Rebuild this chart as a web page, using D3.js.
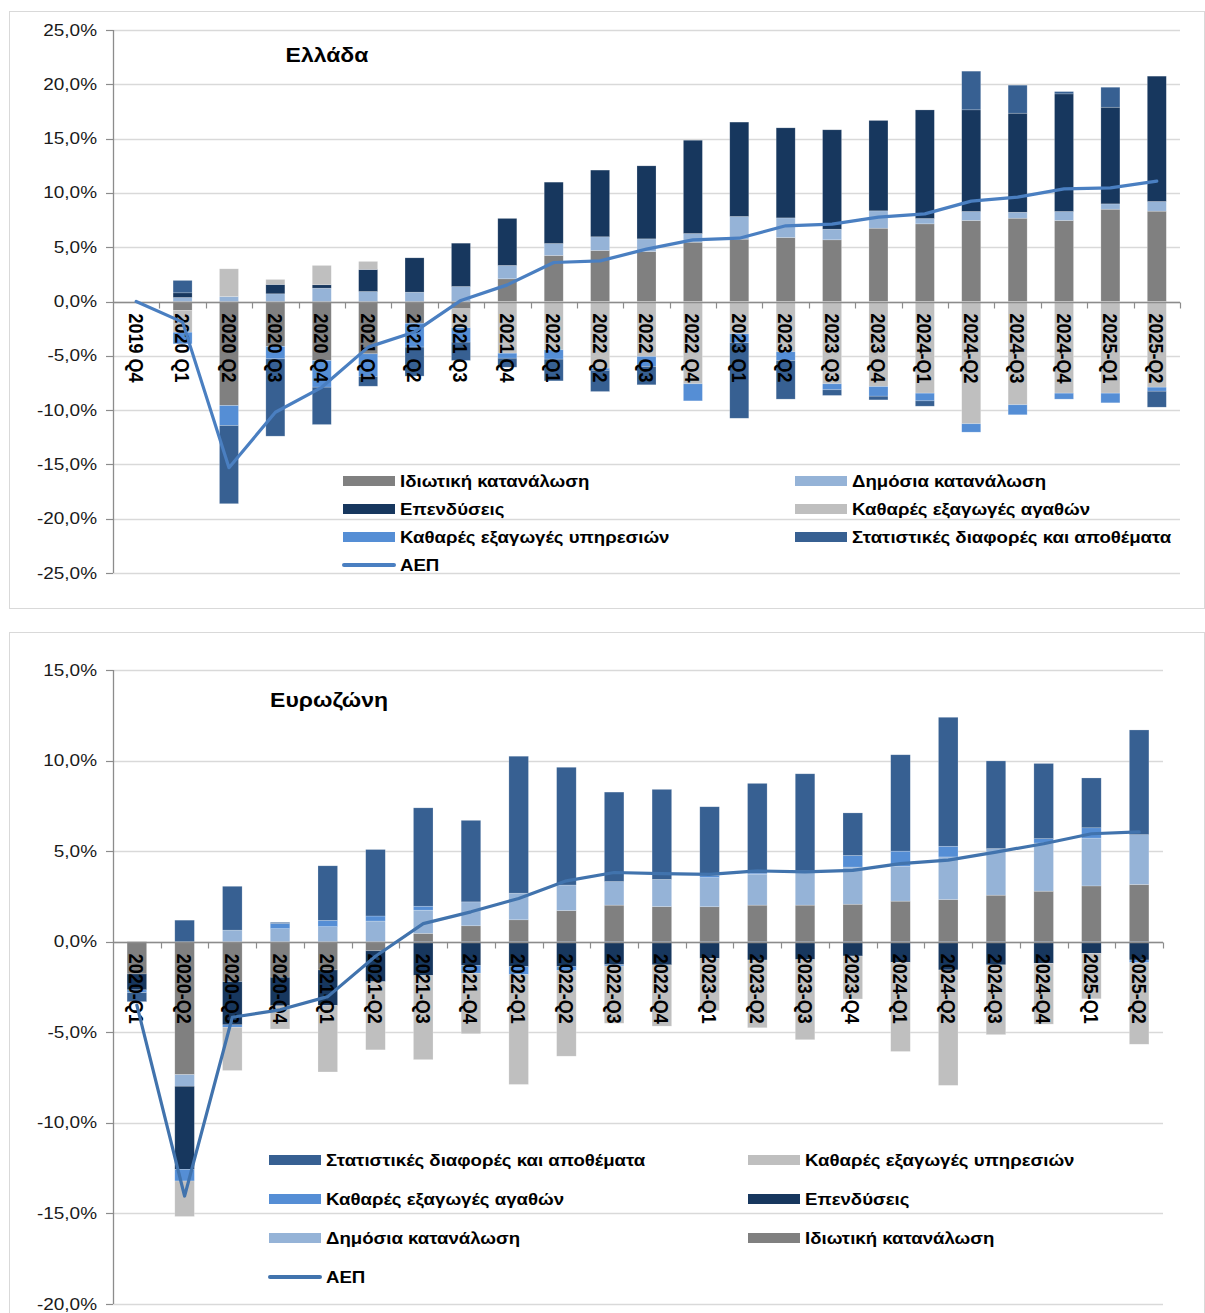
<!DOCTYPE html>
<html>
<head>
<meta charset="utf-8">
<script src="https://cdn.jsdelivr.net/npm/d3@7"></script>
<style>
  html, body { margin: 0; padding: 0; background: #fff; }
  svg { display: block; font-family: "Liberation Sans", Arial, sans-serif; }
</style>
</head>
<body>
<svg id="chart" width="1205" height="1313"></svg>
<script>
// ---------------- Greece (top) ----------------
const grCategories = ["2019 Q4","2020 Q1","2020 Q2","2020 Q3","2020 Q4","2021 Q1","2021 Q2","2021 Q3","2021 Q4",
  "2022 Q1","2022 Q2","2022 Q3","2022 Q4","2023 Q1","2023 Q2","2023 Q3","2023 Q4",
  "2024-Q1","2024-Q2","2024-Q3","2024-Q4","2025-Q1","2025-Q2"];
const grPrivate    = [0, -0.83, -9.58, -4.14, -5.43, -4.82, -2.00, -0.67, 2.09, 4.24, 4.70, 4.60, 5.46, 5.74, 5.89, 5.68, 6.75, 7.15, 7.46, 7.67, 7.46, 8.50, 8.32];
const grPublic     = [0, 0.37, 0.46, 0.71, 1.23, 0.92, 0.86, 1.38, 1.23, 1.10, 1.26, 1.17, 0.80, 2.09, 1.81, 0.98, 1.60, 0.49, 0.83, 0.55, 0.83, 0.49, 0.89];
const grInvestment = [0, 0.43, 0.00, 0.86, 0.31, 2.03, 3.16, 3.99, 4.33, 5.65, 6.14, 6.72, 8.59, 8.69, 8.29, 9.15, 8.32, 10.00, 9.36, 9.12, 10.83, 8.90, 11.54];
const grGoods      = [0, -2.00, 2.55, 0.46, 1.78, 0.74, 0.00, -1.75, -4.76, -4.45, -6.14, -5.06, -7.58, -2.98, -4.63, -7.58, -7.83, -8.44, -11.26, -9.51, -8.44, -8.44, -7.89];
const grServices   = [0, -1.07, -1.84, -1.14, -2.46, -2.09, -2.20, -1.32, -0.46, -0.86, -0.20, -0.92, -1.57, -0.80, -0.80, -0.55, -0.89, -0.71, -0.77, -0.92, -0.55, -0.89, -0.37];
const grStat       = [0, 1.14, -7.20, -7.12, -3.44, -0.89, -2.67, -1.69, -0.83, -2.00, -1.95, -1.69, 0.00, -6.97, -3.56, -0.52, -0.34, -0.49, 3.56, 2.58, 0.21, 1.84, -1.47];
const grGDP        = [0, -1.9, -15.3, -10.2, -7.9, -4.2, -2.8, 0.1, 1.53, 3.59, 3.74, 4.82, 5.68, 5.83, 6.97, 7.12, 7.77, 8.07, 9.24, 9.61, 10.37, 10.47, 11.08];
const grTicks      = [-25, -20, -15, -10, -5, 0, 5, 10, 15, 20, 25];

// ---------------- Eurozone (bottom) ----------------
const ezCategories = ["2020-Q1","2020-Q2","2020-Q3","2020-Q4","2021-Q1","2021-Q2","2021-Q3","2021-Q4",
  "2022-Q1","2022-Q2","2022-Q3","2022-Q4","2023-Q1","2023-Q2","2023-Q3","2023-Q4",
  "2024-Q1","2024-Q2","2024-Q3","2024-Q4","2025-Q1","2025-Q2"];
const ezPrivate    = [-1.78, -7.34, -2.20, -1.96, -1.56, -0.50, 0.46, 0.88, 1.21, 1.72, 2.02, 1.94, 1.93, 2.02, 2.02, 2.07, 2.24, 2.33, 2.57, 2.79, 3.08, 3.16];
const ezPublic     = [0, -0.64, 0.64, 0.72, 0.83, 1.14, 1.28, 1.32, 1.47, 1.41, 1.30, 1.50, 1.61, 1.71, 1.89, 2.05, 1.93, 2.35, 2.57, 2.66, 2.64, 2.75];
const ezInvestment = [-0.88, -4.59, -2.39, -1.58, -1.96, -1.71, -1.87, -1.32, -1.38, -1.38, -1.27, -1.28, -0.92, -1.01, -0.99, -0.79, -1.14, -1.56, -1.28, -1.19, -0.64, -1.01];
const ezGoods      = [-0.15, -0.64, -0.13, 0.29, 0.35, 0.28, 0.22, -0.42, -0.44, -0.22, -0.07, 0.00, 0.12, 0.06, 0.00, 0.64, 0.83, 0.59, 0.00, 0.24, 0.57, -0.15];
const ezServices   = [0, -1.96, -2.39, -1.28, -3.67, -3.76, -4.64, -3.34, -6.06, -4.72, -3.16, -3.38, -2.88, -3.74, -4.42, -2.37, -4.92, -6.37, -3.85, -3.36, -2.51, -4.50];
const ezStat       = [-0.50, 1.19, 2.42, 0.06, 3.01, 3.67, 5.43, 4.50, 7.56, 6.50, 4.94, 4.97, 3.79, 4.95, 5.36, 2.35, 5.32, 7.12, 4.84, 4.15, 2.75, 5.78];
const ezGDP        = [-3.5, -14.04, -4.17, -3.76, -3.03, -0.8, 1.0, 1.65, 2.39, 3.36, 3.82, 3.76, 3.72, 3.91, 3.85, 3.94, 4.31, 4.50, 4.95, 5.41, 5.96, 6.06];
const ezTicks      = [-20, -15, -10, -5, 0, 5, 10, 15];

// Series names
const nPrivate = "Ιδιωτική κατανάλωση";
const nPublic = "Δημόσια κατανάλωση";
const nInvest = "Επενδύσεις";
const nGoods = "Καθαρές εξαγωγές αγαθών";
const nServices = "Καθαρές εξαγωγές υπηρεσιών";
const nStat = "Στατιστικές διαφορές και αποθέματα";
const nGDP = "ΑΕΠ";

const FONT_SX = 1.15;
const svg = d3.select("#chart");
const fmt = v => d3.format(".1f")(v).replace(".", ",").replace("\u2212", "-") + "%";

function drawChart(o) {
  const g = svg.append("g");
  // panel border
  g.append("rect").attr("x", o.panel[0] + 0.5).attr("y", o.panel[1] + 0.5)
    .attr("width", o.panel[2]).attr("height", o.panel[3])
    .attr("fill", "none").attr("stroke", "#d9d9d9").attr("stroke-width", 1);

  const x = d3.scaleBand().domain(o.cats).range([o.x0, o.x1]).padding(0);
  const y = d3.scaleLinear().domain(o.yDomain).range([o.y1, o.y0]);
  const bw = x.bandwidth() * 0.41;

  // gridlines
  g.append("g").selectAll("line").data(o.ticks).join("line")
    .attr("x1", o.x0).attr("x2", o.x1)
    .attr("y1", d => Math.round(y(d)) + 0.5).attr("y2", d => Math.round(y(d)) + 0.5)
    .attr("stroke", "#d9d9d9").attr("stroke-width", 1.3);

  // stacked bars
  const rows = o.cats.map((c, i) => {
    const r = { cat: c };
    o.series.forEach(s => r[s.name] = s.values[i]);
    return r;
  });
  const stack = d3.stack().keys(o.series.map(s => s.name)).offset(d3.stackOffsetDiverging)(rows);
  stack.forEach((layer, li) => {
    const s = o.series[li];
    g.append("g").selectAll("rect").data(layer).join("rect")
      .attr("x", d => x(d.data.cat) + (x.bandwidth() - bw) / 2)
      .attr("width", bw)
      .attr("y", d => y(Math.max(d[0], d[1])))
      .attr("height", d => Math.abs(y(d[0]) - y(d[1])))
      .attr("fill", s.color)
      .attr("stroke", "rgba(255,255,255,0.35)").attr("stroke-width", 0.6);
  });

  // x axis line + ticks
  const y0px = Math.round(y(0)) + 0.5;
  g.append("line").attr("x1", o.x0).attr("x2", o.x1).attr("y1", y0px).attr("y2", y0px)
    .attr("stroke", "#8c8c8c").attr("stroke-width", 1.3);
  const bounds = o.cats.map(c => x(c)).concat([o.x1]);
  g.append("g").selectAll("line").data(bounds.slice(1)).join("line")
    .attr("x1", d => Math.round(d) + 0.5).attr("x2", d => Math.round(d) + 0.5)
    .attr("y1", y0px).attr("y2", y0px + 6)
    .attr("stroke", "#8c8c8c").attr("stroke-width", 1.2);

  // y axis
  g.append("line").attr("x1", o.x0 + 0.5).attr("x2", o.x0 + 0.5)
    .attr("y1", y(o.yDomain[1])).attr("y2", y(o.yDomain[0]))
    .attr("stroke", "#8c8c8c").attr("stroke-width", 1.3);
  g.append("g").selectAll("line").data(o.ticks).join("line")
    .attr("x1", o.x0 - 7).attr("x2", o.x0)
    .attr("y1", d => Math.round(y(d)) + 0.5).attr("y2", d => Math.round(y(d)) + 0.5)
    .attr("stroke", "#8c8c8c").attr("stroke-width", 1.2);
  g.append("g").selectAll("text").data(o.ticks).join("text")
    .attr("transform", d => `translate(${o.x0 - 16},${y(d)}) scale(${FONT_SX},1)`)
    .attr("text-anchor", "end").attr("dominant-baseline", "central")
    .attr("font-size", 16.5).attr("fill", "#1a1a1a")
    .text(d => fmt(d));

  // category labels (rotated)
  g.append("g").selectAll("text").data(o.cats).join("text")
    .attr("transform", d => `translate(${x(d) + x.bandwidth() / 2},${y(0) + 12}) scale(${FONT_SX},1) rotate(90)`)
    .attr("text-anchor", "start").attr("dominant-baseline", "central")
    .attr("font-size", 18).attr("font-weight", "bold").attr("fill", "#000")
    .text(d => d);

  // GDP line
  const line = d3.line().x((d, i) => x(o.cats[i]) + x.bandwidth() / 2).y(d => y(d));
  g.append("path").datum(o.gdp).attr("d", line)
    .attr("fill", "none").attr("stroke", o.lineColor).attr("stroke-width", 3.2)
    .attr("stroke-linejoin", "round").attr("stroke-linecap", "round");

  // title
  g.append("text").attr("transform", `translate(${o.title[1]},${o.title[2]}) scale(${FONT_SX},1)`)
    .attr("text-anchor", "middle").attr("dominant-baseline", "central")
    .attr("font-size", 20).attr("font-weight", "bold").attr("fill", "#000")
    .text(o.title[0]);

  // legend
  const lg = g.append("g");
  o.legend.forEach((it, i) => {
    const col = i % 2, row = Math.floor(i / 2);
    const lx = o.legendCols[col], ly = o.legendRows[row];
    if (it.line) {
      lg.append("line").attr("x1", lx + 1).attr("x2", lx + 51).attr("y1", ly).attr("y2", ly)
        .attr("stroke", it.color).attr("stroke-width", 4).attr("stroke-linecap", "round");
    } else {
      lg.append("rect").attr("x", lx).attr("y", ly - 5).attr("width", 52).attr("height", 10)
        .attr("fill", it.color);
    }
    lg.append("text").attr("transform", `translate(${lx + 57},${ly}) scale(${FONT_SX},1)`)
      .attr("dominant-baseline", "central").attr("font-size", 16.2).attr("font-weight", "bold")
      .attr("fill", "#000").text(it.name);
  });
}

const C = {
  private: "#808080", public: "#95b3d7", invest: "#17375e",
  lgray: "#bfbfbf", mblue: "#558ed5", stat: "#376092"
};

drawChart({
  panel: [9, 11, 1195, 597],
  cats: grCategories, x0: 113, x1: 1180,
  yDomain: [-25, 25], y0: 30, y1: 573, ticks: grTicks,
  series: [
    { name: nPrivate, values: grPrivate, color: C.private },
    { name: nPublic, values: grPublic, color: C.public },
    { name: nInvest, values: grInvestment, color: C.invest },
    { name: nGoods, values: grGoods, color: C.lgray },
    { name: nServices, values: grServices, color: C.mblue },
    { name: nStat, values: grStat, color: C.stat }
  ],
  gdp: grGDP, lineColor: "#4a7fc1",
  title: ["Ελλάδα", 327, 55],
  legendCols: [343, 795], legendRows: [481, 509, 537, 565],
  legend: [
    { name: nPrivate, color: C.private }, { name: nPublic, color: C.public },
    { name: nInvest, color: C.invest }, { name: nGoods, color: C.lgray },
    { name: nServices, color: C.mblue }, { name: nStat, color: C.stat },
    { name: nGDP, color: "#4a7fc1", line: true }
  ]
});

drawChart({
  panel: [9, 632, 1195, 700],
  cats: ezCategories, x0: 113, x1: 1163,
  yDomain: [-20, 15], y0: 670, y1: 1304, ticks: ezTicks,
  series: [
    { name: nPrivate, values: ezPrivate, color: C.private },
    { name: nPublic, values: ezPublic, color: C.public },
    { name: nInvest, values: ezInvestment, color: C.invest },
    { name: nGoods, values: ezGoods, color: C.mblue },
    { name: nServices, values: ezServices, color: C.lgray },
    { name: nStat, values: ezStat, color: C.stat }
  ],
  gdp: ezGDP, lineColor: "#4173ad",
  title: ["Ευρωζώνη", 329, 700],
  legendCols: [269, 748], legendRows: [1160, 1199, 1238, 1277],
  legend: [
    { name: nStat, color: C.stat }, { name: nServices, color: C.lgray },
    { name: nGoods, color: C.mblue }, { name: nInvest, color: C.invest },
    { name: nPublic, color: C.public }, { name: nPrivate, color: C.private },
    { name: nGDP, color: "#4173ad", line: true }
  ]
});
</script>
</body>
</html>
